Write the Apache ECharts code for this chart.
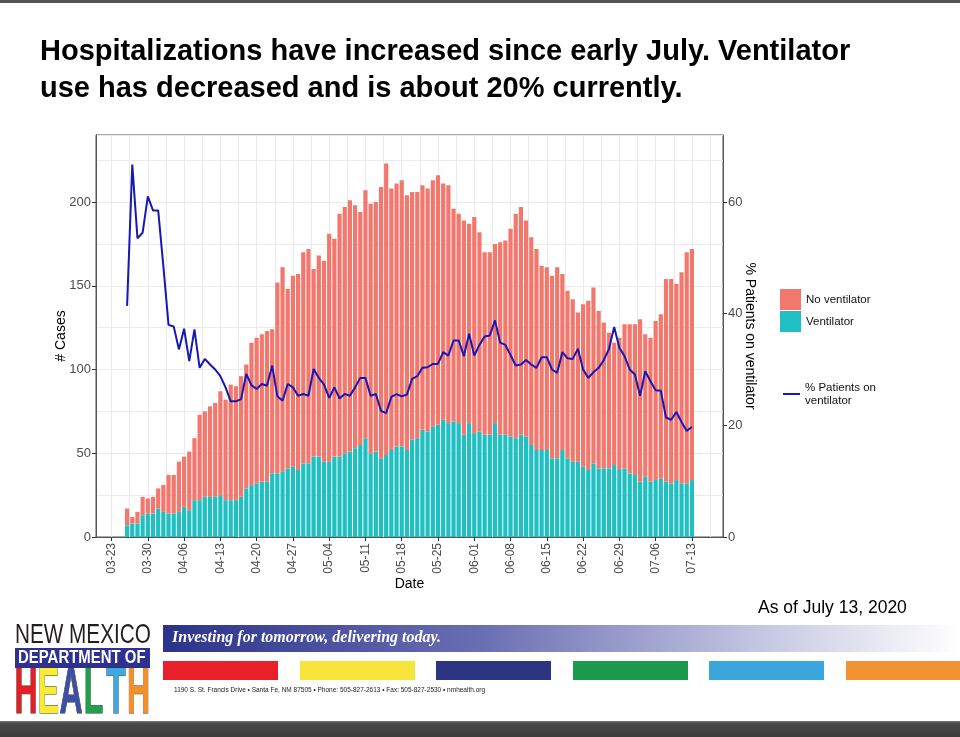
<!DOCTYPE html>
<html><head><meta charset="utf-8">
<script src="https://cdn.jsdelivr.net/npm/echarts@6/dist/echarts.min.js"></script>
<style>html,body{margin:0;padding:0;background:#fff}#c{width:960px;height:737px}</style>
</head><body><div id="c"></div>
<script>
// ---------------- data ----------------
const firstDay = '2020-03-26';          // first reported day, one value per day afterwards
const weekLabels = ['03-23','03-30','04-06','04-13','04-20','04-27','05-04','05-11','05-18','05-25','06-01','06-08','06-15','06-22','06-29','07-06','07-13'];
const leftTicks = [0, 50, 100, 150, 200];
const rightTicks = [0, 20, 40, 60];
const ventilator = [
  7,8,8,13,14,14,17,15,14,14,
  15,18,16,22,22,24,24,24,25,22,
  22,22,24,29,31,32,33,33,38,38,
  39,41,42,40,44,44,48,48,45,45,
  48,48,50,51,53,55,59,50,51,47,
  49,52,54,54,52,58,59,64,63,66,
  67,70,68,69,68,61,68,62,63,61,
  61,68,61,61,60,59,61,60,55,52,
  52,52,47,47,52,47,45,45,42,40,
  44,41,41,41,43,40,41,38,37,33,
  36,33,34,35,33,32,34,32,32,34];
const noVentilator = [
  10,4,7,11,9,10,12,16,23,23,
  30,30,35,37,51,51,54,56,62,60,
  69,68,72,74,85,87,88,90,86,114,
  122,107,114,117,126,128,112,120,120,136,
  130,145,147,150,145,139,148,149,149,162,
  174,156,157,159,152,148,147,146,145,147,
  149,141,142,127,125,128,119,129,119,109,
  109,107,115,116,124,134,136,129,124,120,
  110,109,109,114,105,100,97,89,97,101,
  105,94,87,81,73,79,86,89,90,97,
  85,86,95,98,121,122,117,126,138,138];
const pctOnVentilator = [
  41.4,66.7,53.5,54.5,61,58.5,58.5,48.5,38,37.7,
  33.6,37.3,31.5,37.2,30.3,31.9,30.9,30,28.8,26.8,
  24.3,24.3,24.7,29.2,27.2,26.5,27.4,27.1,30.7,25.2,
  24.4,27.4,26.8,25.3,25.6,25.3,30.1,28.5,27.3,24.9,
  26.8,24.8,25.6,25.3,26.8,28.5,28.5,25.3,25.6,22.6,
  22.2,25.1,25.6,25.2,25.5,28.3,28.8,30.3,30.4,31,
  31,33.1,32.5,35.2,35.2,32.4,36.4,32.5,34.4,35.9,
  36.1,38.8,34.8,34.4,32.6,30.7,30.9,31.7,30.9,30.3,
  32.2,32.2,30,29.4,33.1,32,31.9,33.7,30,28.5,
  29.5,30.3,31.7,33.7,37.6,33.9,32.4,30,29.1,25.3,
  29.7,27.9,26.3,26.2,21.4,21,22.4,20.6,19,19.7];

// ---------------- axis construction (half-day slots) ----------------
const DAY = 86400000;
const axisFirst = Date.UTC(2020, 2, 20);   // panel starts 3 days before first week label
const SLOTS = 243;                          // 121 days in half-day steps
function md(t){ const d = new Date(t); return String(d.getUTCMonth()+1).padStart(2,'0') + '-' + String(d.getUTCDate()).padStart(2,'0'); }
const cats = [];
for (let h = 0; h < SLOTS; h++) cats.push(h % 2 === 0 ? md(axisFirst + (h/2)*DAY) : ('h' + h));
const firstSlot = cats.indexOf(weekLabels[0]);
const startSlot = Math.round((Date.parse(firstDay + 'T00:00:00Z') - axisFirst) / DAY * 2);
function place(arr){ const out = new Array(SLOTS).fill('-'); arr.forEach((v, i) => { out[startSlot + 2*i] = v; }); return out; }

const FONT = '"Liberation Sans", Arial, sans-serif';
const chart = echarts.init(document.getElementById('c'), null, {renderer: 'canvas'});
const isWeek = (idx, val) => weekLabels.includes(val);

chart.setOption({
  backgroundColor: '#ffffff',
  animation: false,
  textStyle: {fontFamily: FONT},
  grid: {left: 96, right: 237, top: 135, bottom: 200, show: true, borderColor: '#555555', borderWidth: 1, backgroundColor: 'transparent'},
  legend: [
    {data: [{name: 'No ventilator', icon: 'rect'}, {name: 'Ventilator', icon: 'rect'}], orient: 'vertical', left: 780, top: 289,
     itemWidth: 21, itemHeight: 21, itemGap: 1, padding: 0, textStyle: {fontSize: 11.5, color: '#111', fontFamily: FONT}, selectedMode: false},
    {data: [{name: '% Patients on ventilator', icon: 'rect'}], orient: 'vertical', left: 783, top: 381, itemWidth: 17, itemHeight: 2,
     padding: 0, formatter: () => '% Patients on\nventilator', textStyle: {fontSize: 11.5, color: '#111', lineHeight: 13, fontFamily: FONT}, selectedMode: false}
  ],
  xAxis: {
    type: 'category', data: cats, boundaryGap: false,
    name: 'Date', nameLocation: 'middle', nameGap: 40, nameMoveOverlap: false, nameTextStyle: {fontSize: 14, color: '#000', fontFamily: FONT},
    axisLine: {show: true, lineStyle: {color: '#555555'}},
    axisTick: {show: true, interval: isWeek, length: 4, lineStyle: {color: '#333333'}},
    axisLabel: {interval: isWeek, rotate: 90, margin: 6, fontSize: 12, color: '#4d4d4d', fontFamily: FONT},
    splitLine: {show: true, interval: (idx) => idx >= firstSlot && (idx - firstSlot) % 7 === 0, lineStyle: {color: '#ebebeb', width: 1}}
  },
  yAxis: [
    {type: 'value', min: 0, max: 240, interval: 50, position: 'left',
     name: '# Cases', nameLocation: 'middle', nameGap: 28, nameRotate: 90, nameMoveOverlap: false, nameTextStyle: {fontSize: 14, color: '#000', fontFamily: FONT},
     axisLine: {show: true, lineStyle: {color: '#555555'}},
     axisTick: {show: true, length: 4, customValues: leftTicks, lineStyle: {color: '#333333'}},
     axisLabel: {margin: 5, fontSize: 13, color: '#4d4d4d', fontFamily: FONT, customValues: leftTicks, formatter: v => leftTicks.includes(v) ? String(v) : ''},
     splitLine: {show: false}},
    {type: 'value', min: 0, max: 72, interval: 20, position: 'right',
     name: '% Patients on ventilator', nameLocation: 'middle', nameGap: 20, nameRotate: -90, nameMoveOverlap: false, nameTextStyle: {fontSize: 14, color: '#000', fontFamily: FONT},
     axisLine: {show: true, lineStyle: {color: '#555555'}},
     axisTick: {show: true, length: 4, customValues: rightTicks, lineStyle: {color: '#333333'}},
     axisLabel: {margin: 5, fontSize: 13, color: '#4d4d4d', fontFamily: FONT, customValues: rightTicks, formatter: v => rightTicks.includes(v) ? String(v) : ''},
     splitLine: {show: false}},
    {type: 'value', min: 0, max: 240, interval: 25, position: 'left', show: true,
     axisLine: {show: false}, axisTick: {show: false}, axisLabel: {show: false},
     splitLine: {show: true, lineStyle: {color: '#ebebeb', width: 1}}}
  ],
  series: [
    {name: 'Ventilator', type: 'bar', stack: 'cases', yAxisIndex: 0, barWidth: 4.2, data: place(ventilator),
     itemStyle: {color: '#1fbfc2'}, emphasis: {disabled: true}, z: 2},
    {name: 'No ventilator', type: 'bar', stack: 'cases', yAxisIndex: 0, barWidth: 4.2, data: place(noVentilator),
     itemStyle: {color: '#f2776d'}, emphasis: {disabled: true}, z: 2},
    {name: '% Patients on ventilator', type: 'line', yAxisIndex: 1, data: place(pctOnVentilator), connectNulls: true,
     showSymbol: false, symbol: 'none', lineStyle: {color: '#1818b4', width: 2}, itemStyle: {color: '#1818b4'}, z: 5}
  ],
  graphic: [
    {type: 'rect', shape: {x: 0, y: 0, width: 960, height: 3}, style: {fill: '#555555'}},
    {type: 'text', x: 40, y: 52, style: {text: 'Hospitalizations have increased since early July. Ventilator', font: 'bold 29px ' + FONT, fill: '#000', textVerticalAlign: 'middle'}},
    {type: 'text', x: 40, y: 89, style: {text: 'use has decreased and is about 20% currently.', font: 'bold 29px ' + FONT, fill: '#000', textVerticalAlign: 'middle'}},
    {type: 'text', x: 758, y: 608, style: {text: 'As of July 13, 2020', font: '17.5px ' + FONT, fill: '#000', textVerticalAlign: 'middle'}},
    // footer logo
    {type: 'text', x: 15, y: 635, scaleX: 0.74, style: {text: 'NEW MEXICO', font: '28px ' + FONT, fill: '#231f20', textVerticalAlign: 'middle'}},
    {type: 'rect', shape: {x: 15, y: 648, width: 135, height: 20}, style: {fill: '#2e3192'}},
    {type: 'text', x: 18, y: 658.5, scaleX: 0.83, style: {text: 'DEPARTMENT OF', font: 'bold 18px ' + FONT, fill: '#ffffff', textVerticalAlign: 'middle'}},
    {type: 'text', x: 26, y: 695, scaleX: 0.5, style: {text: 'H', font: 'bold 64px ' + FONT, fill: '#e31e26', stroke: '#333', lineWidth: 1, textAlign: 'center', textVerticalAlign: 'middle'}},
    {type: 'text', x: 48.5, y: 695, scaleX: 0.5, style: {text: 'E', font: 'bold 64px ' + FONT, fill: '#f9ec31', stroke: '#333', lineWidth: 1, textAlign: 'center', textVerticalAlign: 'middle'}},
    {type: 'text', x: 71, y: 695, scaleX: 0.5, style: {text: 'A', font: 'bold 64px ' + FONT, fill: '#3d4fa1', stroke: '#333', lineWidth: 1, textAlign: 'center', textVerticalAlign: 'middle'}},
    {type: 'text', x: 93.5, y: 695, scaleX: 0.5, style: {text: 'L', font: 'bold 64px ' + FONT, fill: '#1fa14a', stroke: '#333', lineWidth: 1, textAlign: 'center', textVerticalAlign: 'middle'}},
    {type: 'text', x: 116, y: 695, scaleX: 0.5, style: {text: 'T', font: 'bold 64px ' + FONT, fill: '#3ca9e0', stroke: '#333', lineWidth: 1, textAlign: 'center', textVerticalAlign: 'middle'}},
    {type: 'text', x: 138.5, y: 695, scaleX: 0.5, style: {text: 'H', font: 'bold 64px ' + FONT, fill: '#f58f2a', stroke: '#333', lineWidth: 1, textAlign: 'center', textVerticalAlign: 'middle'}},
    // banner
    {type: 'rect', shape: {x: 163, y: 625, width: 797, height: 27},
     style: {fill: new echarts.graphic.LinearGradient(0, 0, 1, 0, [{offset: 0, color: '#2b338a'}, {offset: 0.4, color: '#6a6fb3'}, {offset: 0.75, color: '#c5c7e2'}, {offset: 1, color: '#ffffff'}])}},
    {type: 'text', x: 172, y: 638, style: {text: 'Investing for tomorrow, delivering today.', font: 'italic bold 16px "Liberation Serif", serif', fill: '#ffffff', textVerticalAlign: 'middle'}},
    {type: 'rect', shape: {x: 163, y: 661, width: 115, height: 19}, style: {fill: '#e8202a'}},
    {type: 'rect', shape: {x: 300, y: 661, width: 115, height: 19}, style: {fill: '#f8e53b'}},
    {type: 'rect', shape: {x: 436, y: 661, width: 115, height: 19}, style: {fill: '#2d3583'}},
    {type: 'rect', shape: {x: 573, y: 661, width: 115, height: 19}, style: {fill: '#1a9a4a'}},
    {type: 'rect', shape: {x: 709, y: 661, width: 115, height: 19}, style: {fill: '#3aa6dc'}},
    {type: 'rect', shape: {x: 846, y: 661, width: 114, height: 19}, style: {fill: '#f29232'}},
    {type: 'text', x: 174, y: 690, style: {text: '1190 S. St. Francis Drive \u2022 Santa Fe, NM 87505 \u2022 Phone: 505-827-2613 \u2022 Fax: 505-827-2530 \u2022 nmhealth.org', font: '6.5px ' + FONT, fill: '#222', textVerticalAlign: 'middle'}},
    // bottom band
    {type: 'rect', shape: {x: 0, y: 721, width: 960, height: 16},
     style: {fill: new echarts.graphic.LinearGradient(0, 0, 0, 1, [{offset: 0, color: '#7a7a7a'}, {offset: 0.15, color: '#4a4a4a'}, {offset: 1, color: '#3a3a3a'}])}}
  ]
});
</script>
</body></html>
